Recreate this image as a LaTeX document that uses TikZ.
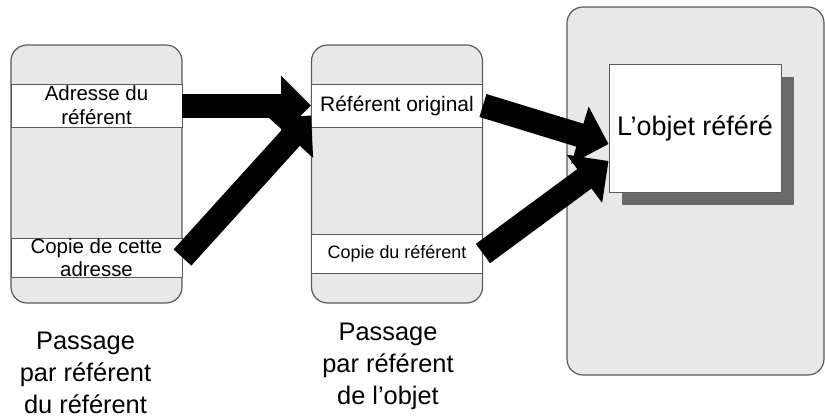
\documentclass[tikz,border=0pt]{standalone}
\usepackage{fontspec}
\setmainfont{Liberation Sans}
\usetikzlibrary{positioning,arrows.meta,shadows}
\definecolor{boxgray}{HTML}{E8E8E8}
\definecolor{boxline}{HTML}{5A5A5A}
\definecolor{shadowgray}{HTML}{6A6A6A}

\begin{document}
\begin{tikzpicture}[x=1bp,y=1bp,
  pile/.style={draw=boxline,line width=1.2bp,fill=boxgray,rounded corners=16bp,minimum width=171bp,minimum height=258bp,inner sep=0pt},
  band/.style={draw=boxline,line width=0.9bp,fill=white,minimum width=171bp,inner sep=0pt,align=center},
  fleche/.style={line width=24bp,-{Triangle[length=30bp,width=58bp]}},
  legende/.style={align=center,font=\fontsize{25.5}{32}\selectfont,inner sep=0pt}]
  \useasboundingbox (0,0) rectangle (825,-417);
  % les deux piles et le tas
  \node[pile](pile1) at (96.5,-174){};
  \node[pile](pile2) at (397,-174){};
  \node[pile,minimum width=257bp,minimum height=368bp](tas) at (695.5,-191){};
  % cases des piles
  \node[band,minimum height=43bp,font=\fontsize{20.5}{24}\selectfont](adr) at (96.5,-105.5){Adresse du\\référent};
  \node[band,minimum height=39bp,font=\fontsize{20.5}{23}\selectfont](copie) at (96.5,-257.5){Copie de cette\\adresse};
  \node[band,minimum height=43bp,font=\fontsize{21}{24}\selectfont](orig) at (397,-105.5){Référent original};
  \node[band,minimum height=39bp,font=\fontsize{18}{20}\selectfont](copieref) at (397,-253.5){Copie du référent};
  % l'objet
  \node[draw=boxline,line width=0.9bp,fill=white,minimum width=172bp,minimum height=128bp,
    drop shadow={shadow xshift=13bp,shadow yshift=-13bp,fill=shadowgray,opacity=1},
    font=\fontsize{27}{30}\selectfont](objet) at (695,-128){L’objet référé};
  % fleches
  \draw[fleche] (adr.east) -- (orig.west);
  \draw[fleche] (copie.east) -- ([yshift=-10bp]orig.west);
  \draw[fleche] (orig.east) -- ([yshift=-16bp]objet.west);
  \draw[fleche] (copieref.east) -- ([yshift=-33bp]objet.west);
  % legendes
  \node[legende,below=28bp of pile1,xshift=-11bp](leg1){Passage\\par référent\\du référent};
  \node[legende,below=19bp of pile2,xshift=-9bp](leg2){Passage\\par référent\\de l’objet};
\end{tikzpicture}
\end{document}
